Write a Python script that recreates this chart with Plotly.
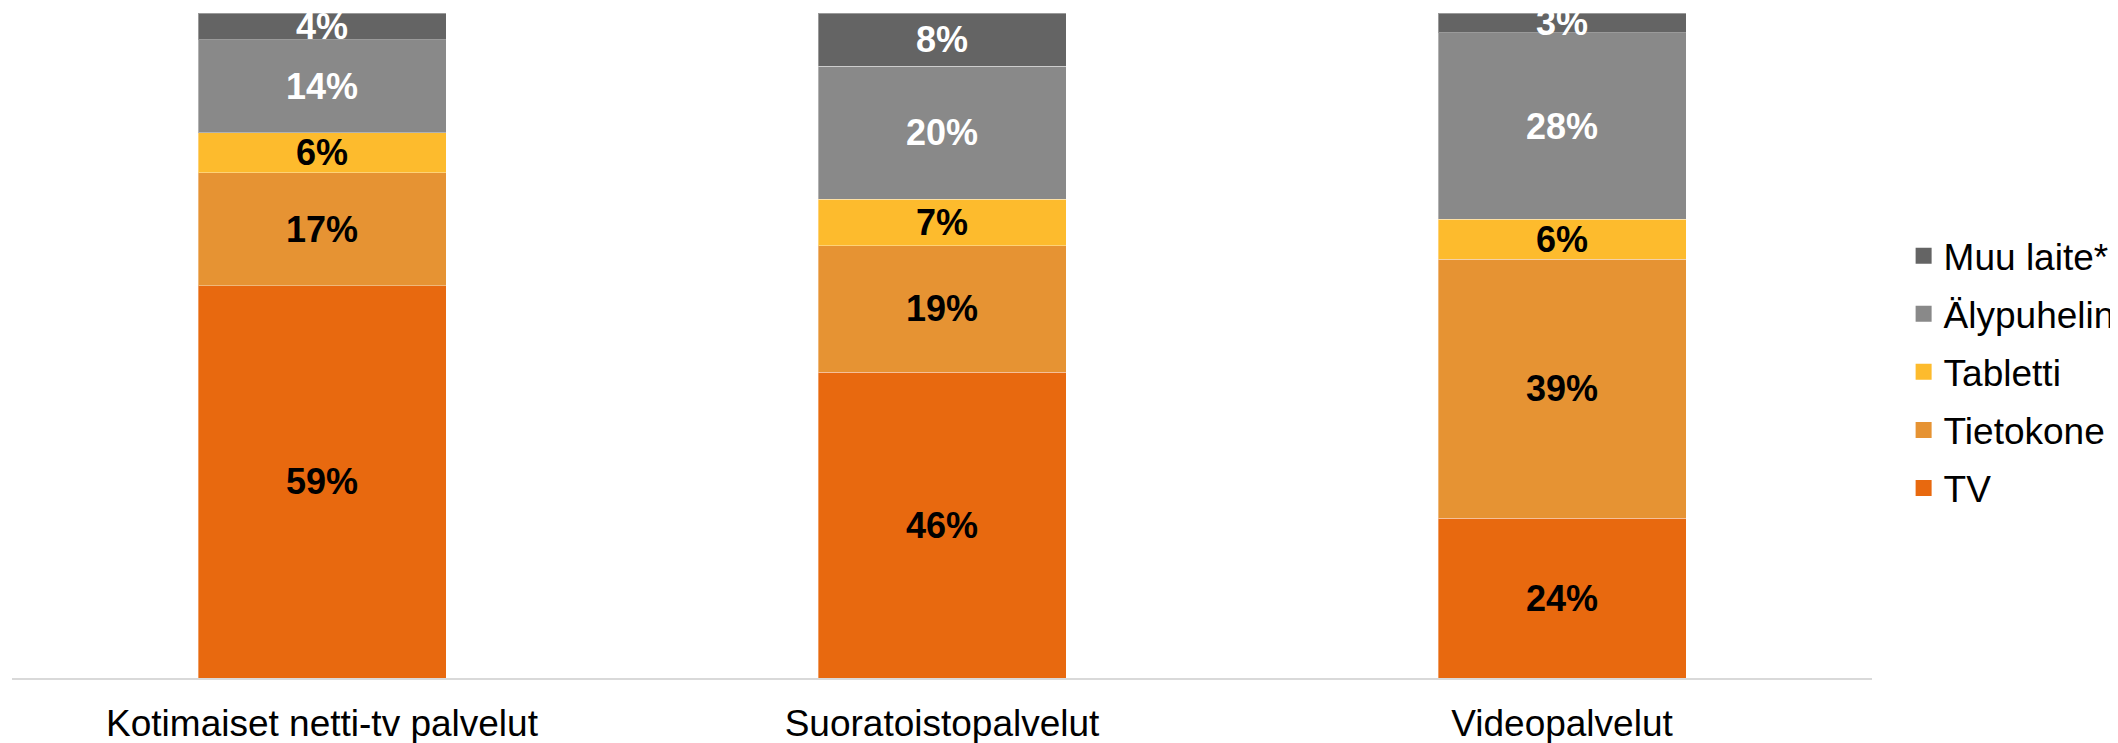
import plotly.graph_objects as go

categories = ["Kotimaiset netti-tv palvelut", "Suoratoistopalvelut", "Videopalvelut"]
series_names = ["TV", "Tietokone", "Tabletti", "Älypuhelin", "Muu laite*"]
tv = [59, 46, 24]
tietokone = [17, 19, 39]
tabletti = [6, 7, 6]
alypuhelin = [14, 20, 28]
muu_laite = [4, 8, 3]

series_values = [tv, tietokone, tabletti, alypuhelin, muu_laite]
colors = ["#E8690F", "#E69333", "#FDBB2D", "#898989", "#646464"]
label_colors = ["#000000", "#000000", "#000000", "#FFFFFF", "#FFFFFF"]

FONT = "Arial, Liberation Sans, sans-serif"

fig = go.Figure()
for name, vals, col, lc in zip(series_names, series_values, colors, label_colors):
    fig.add_trace(go.Bar(
        name=name,
        x=categories,
        y=vals,
        marker=dict(color=col, line=dict(color="rgba(255,255,255,0.35)", width=1)),
        text=[f"{v}%" for v in vals],
        textposition="inside",
        insidetextanchor="middle",
        textangle=0,
        textfont=dict(family=FONT, size=36, color=lc, weight="bold"),
        cliponaxis=True,
        showlegend=False,
        legendgroup=name,
    ))

# legend entries (square swatches), listed top to bottom
for name, col in reversed(list(zip(series_names, colors))):
    fig.add_trace(go.Scatter(
        name=name,
        x=[None],
        y=[None],
        mode="markers",
        marker=dict(symbol="square", size=19, color=col),
        showlegend=True,
        legendgroup=name,
        hoverinfo="skip",
    ))

# the page body adds an 8px offset, so the figure is 8px smaller and margins shifted
fig.update_layout(
    width=2110,
    height=735,
    barmode="stack",
    bargap=0.6,
    plot_bgcolor="white",
    paper_bgcolor="white",
    margin=dict(l=4, r=246, t=5, b=65, pad=0, autoexpand=False),
    uniformtext=dict(minsize=36, mode="show"),
    font=dict(family=FONT, size=37, color="#000000"),
    legend=dict(
        traceorder="grouped",
        tracegroupgap=7,
        x=1.0170,
        xanchor="left",
        y=0.46,
        yanchor="middle",
        font=dict(family=FONT, size=37, color="#000000"),
        bgcolor="rgba(0,0,0,0)",
        itemwidth=30,
        itemsizing="trace",
    ),
    showlegend=True,
)
fig.update_xaxes(
    showline=True,
    linecolor="#D9D9D9",
    linewidth=2,
    ticks="outside",
    ticklen=12,
    tickcolor="rgba(0,0,0,0)",
    tickfont=dict(family=FONT, size=37, color="#000000"),
    showgrid=False,
    automargin=False,
)
fig.update_yaxes(
    range=[0, 100],
    visible=False,
    showgrid=False,
    zeroline=False,
    automargin=False,
)

fig.write_html("out.html")
